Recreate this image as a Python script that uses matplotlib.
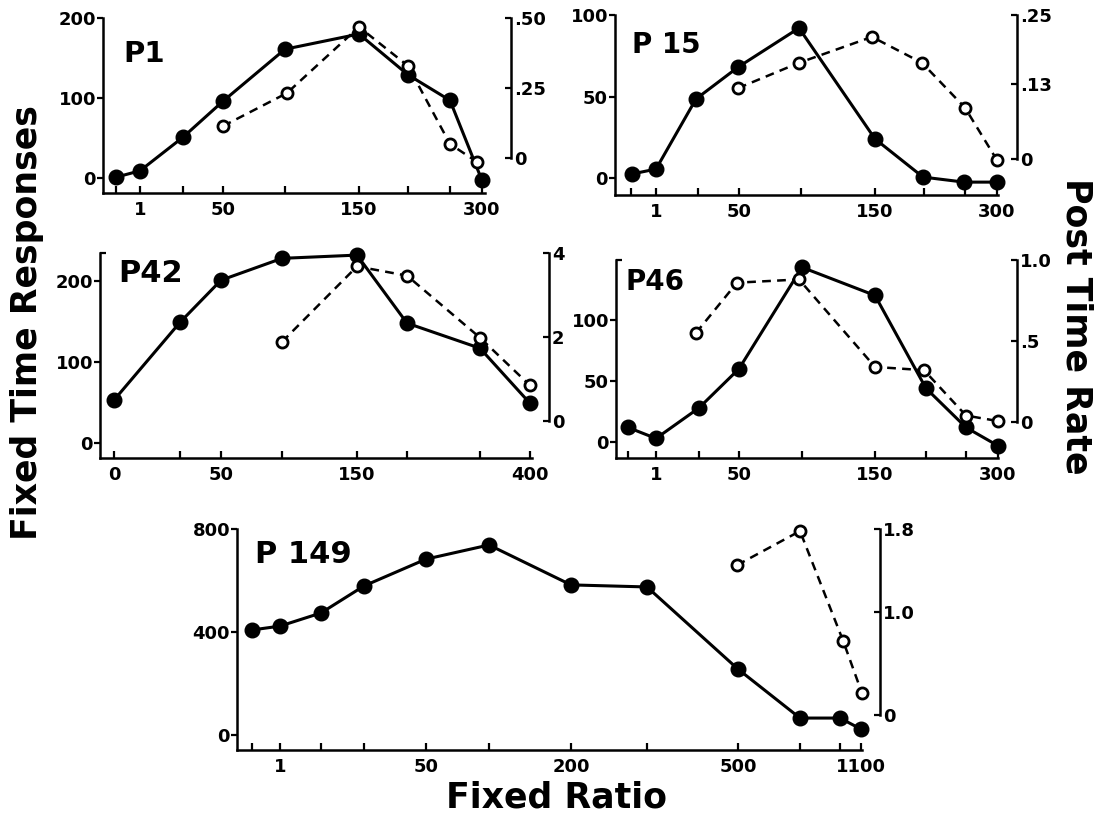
import matplotlib
matplotlib.use("Agg")
import matplotlib.pyplot as plt

W, H = 1106, 823

# ---- data (x given in axis position units) ----
# P1
p1_ticks = [13, 37, 80, 120, 182, 256, 305, 347, 379]
p1_xlabels = ["", "1", "", "50", "", "150", "", "", "300"]
p1_fx = [13, 37, 80, 120, 182, 256, 305, 347, 379]
p1_fy = [1, 9, 51, 96, 161, 180, 129, 97, -3]
p1_ox = [120, 184, 256, 305, 347, 374]
p1_oy = [0.114, 0.232, 0.468, 0.329, 0.05, -0.014]

# P15
p15_ticks = [16, 41, 83, 124, 186, 260, 309, 350, 382]
p15_xlabels = ["", "1", "", "50", "", "150", "", "", "300"]
p15_fx = [17, 41, 81, 123, 184, 260, 308, 349, 382]
p15_fy = [2.5, 5.5, 48.5, 68, 92, 24, 0.6, -2.5, -2.5]
p15_ox = [123, 184, 257, 307, 350, 382]
p15_oy = [0.123, 0.167, 0.212, 0.167, 0.089, -0.002]

# P42
p42_ticks = [14, 80, 121, 182, 257, 307, 380, 430]
p42_xlabels = ["0", "", "50", "", "150", "", "", "400"]
p42_fx = [14, 80, 121, 182, 257, 307, 380, 430]
p42_fy = [53, 149, 201, 228, 232, 148, 117, 49]
p42_ox = [182, 257, 307, 380, 430]
p42_oy = [1.88, 3.68, 3.46, 1.98, 0.84]

# P46
p46_ticks = [12, 40, 83, 123, 186, 259, 310, 350, 382]
p46_xlabels = ["", "1", "", "50", "", "150", "", "", "300"]
p46_fx = [12, 40, 83, 123, 186, 259, 310, 350, 382]
p46_fy = [12, 3, 28, 60, 143, 120, 44, 12, -3]
p46_ox = [80, 121, 183, 259, 308, 350, 382]
p46_oy = [0.55, 0.86, 0.88, 0.34, 0.32, 0.04, 0.006]

# P149
p149_ticks = [15, 43, 84, 127, 189, 252, 334, 410, 501, 563, 603, 624]
p149_xlabels = ["", "1", "", "", "50", "", "200", "", "500", "", "", "1100"]
p149_fx = [15, 43, 84, 127, 189, 252, 334, 410, 501, 563, 603, 624]
p149_fy = [408, 423, 474, 579, 683, 738, 583, 575, 256, 66, 66, 23]
p149_ox = [500, 563, 606, 625]
p149_oy = [1.45, 1.78, 0.72, 0.21]

plt.rcParams['font.family'] = ['DejaVu Sans']
plt.rcParams['font.weight'] = 'bold'

fig = plt.figure(figsize=(W / 100, H / 100), dpi=100)


def panel(x0, x1, ytop, ybot, ticks, xlabels, fx, fy, ox, oy,
          ylim_l, yt_l, yl_l, ylim_r, yt_r, yl_r, rspine_px,
          name, name_px, name_size=20):
    ax = fig.add_axes([x0 / W, 1 - ybot / H, (x1 - x0) / W, (ybot - ytop) / H])
    ax.set_xlim(0, x1 - x0)
    ax.set_ylim(*ylim_l)
    for s in ["top", "right"]:
        ax.spines[s].set_visible(False)
    for s in ["left", "bottom"]:
        ax.spines[s].set_linewidth(1.8)
    ax.set_xticks(ticks)
    ax.set_xticklabels(xlabels)
    ax.set_yticks(yt_l)
    ax.set_yticklabels(yl_l)
    # small inward hook at the top end of the left axis
    ax.set_yticks([ylim_l[1]], minor=True)
    ax.tick_params(axis="x", direction="in", length=5, width=1.6, labelsize=13, pad=6)
    ax.tick_params(axis="y", direction="out", length=4, width=1.6, labelsize=13, pad=1)
    ax.tick_params(axis="y", which="minor", direction="in", length=4, width=1.6)
    ax.plot(fx, fy, "-", color="black", lw=2.2, marker="o", ms=10.5,
            mfc="black", mec="black", zorder=3, clip_on=False)

    ax2 = ax.twinx()
    ax2.set_ylim(*ylim_r)
    for s in ["top", "left", "bottom"]:
        ax2.spines[s].set_visible(False)
    ax2.spines["right"].set_position(("axes", (rspine_px - x0) / (x1 - x0)))
    ax2.spines["right"].set_bounds(0, ylim_r[1])
    ax2.spines["right"].set_linewidth(1.8)
    ax2.set_yticks(yt_r)
    ax2.set_yticklabels(yl_r)
    ax2.tick_params(axis="y", direction="in", length=4, width=1.6, labelsize=13, pad=2)
    ax2.plot(ox, oy, color="black", lw=1.8, linestyle=(0, (3.5, 2.5)), marker="o",
             ms=8, mfc="white", mec="black", mew=2.0, zorder=4, clip_on=False)

    fig.text(name_px[0] / W, 1 - name_px[1] / H, name, fontsize=name_size,
             fontweight="bold", va="baseline", ha="left")
    return ax


panel(103, 485, 18, 193, p1_ticks, p1_xlabels, p1_fx, p1_fy, p1_ox, p1_oy,
      (-18.75, 200), [0, 100, 200], ["0", "100", "200"],
      (-0.125, 0.5), [0, 0.25, 0.5], ["0", ".25", ".50"], 511,
      "P1", (123, 62), 21)

panel(615, 998, 15, 195, p15_ticks, p15_xlabels, p15_fx, p15_fy, p15_ox, p15_oy,
      (-10.4, 100), [0, 50, 100], ["0", "50", "100"],
      (-0.0625, 0.25), [0, 0.13, 0.25], ["0", ".13", ".25"], 1017,
      "P 15", (632, 53))

panel(100, 532, 253, 458, p42_ticks, p42_xlabels, p42_fx, p42_fy, p42_ox, p42_oy,
      (-18.5, 234.6), [0, 100, 200], ["0", "100", "200"],
      (-0.89, 4.0), [0, 2, 4], ["0", "2", "4"], 549,
      "P42", (118, 282), 22)

panel(616, 998, 260, 458, p46_ticks, p46_xlabels, p46_fx, p46_fy, p46_ox, p46_oy,
      (-13, 149), [0, 50, 100], ["0", "50", "100"],
      (-0.222, 1.0), [0, 0.5, 1.0], ["0", ".5", "1.0"], 1017,
      "P46", (625, 290))

panel(237, 862, 529, 750, p149_ticks, p149_xlabels, p149_fx, p149_fy, p149_ox, p149_oy,
      (-58, 800), [0, 400, 800], ["0", "400", "800"],
      (-0.34, 1.8), [0, 1.0, 1.8], ["0", "1.0", "1.8"], 880,
      "P 149", (255, 563), 22)

fig.text(27 / W, 1 - 323 / H, "Fixed Time Responses", rotation=90,
         fontsize=25, fontweight="bold", ha="center", va="center")
fig.text(1077 / W, 1 - 326 / H, "Post Time Rate", rotation=-90,
         fontsize=25, fontweight="bold", ha="center", va="center")
fig.text(556 / W, 1 - 797 / H, "Fixed Ratio",
         fontsize=25, fontweight="bold", ha="center", va="center")

fig.savefig("out.png", dpi=100)
